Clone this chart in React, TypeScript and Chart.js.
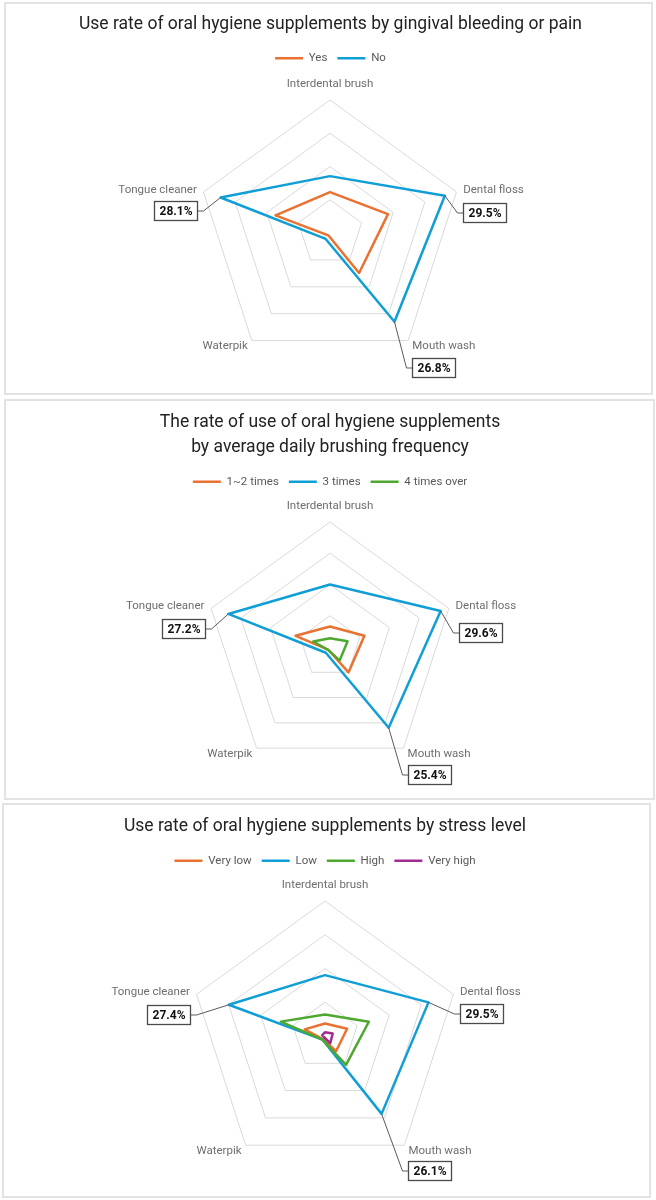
import React, { useEffect, useRef } from 'react';
import { Chart, registerables } from 'chart.js';

Chart.register(...registerables);
Chart.defaults.font.family = 'Roboto, "Noto Sans", sans-serif';

// ---------- data ----------
const CATEGORIES = ['Interdental brush', 'Dental floss', 'Mouth wash', 'Waterpik', 'Tongue cleaner'];

const ORANGE = '#E97132';
const BLUE = '#0F9ED5';
const GREEN = '#4EA72E';
const PURPLE = '#A02B93';

// Chart 1: gingival bleeding or pain
const TITLE_1 = 'Use rate of oral hygiene supplements by gingival bleeding or pain';
const SERIES_1 = ['Yes', 'No'];
const YES_1 = [10.0, 14.9, 12.1, 0.7, 14.0];
const NO_1 = [13.9, 29.5, 26.8, 1.8, 28.1];
const MAX_1 = 32.5;

// Chart 2: daily brushing frequency
const TITLE_2 = ['The rate of use of oral hygiene supplements', 'by average daily brushing frequency'];
const SERIES_2 = ['1~2 times', '3 times', '4 times over'];
const TIMES12_2 = [5.2, 9.2, 8.0, 0.8, 9.2];
const TIMES3_2 = [15.9, 29.6, 25.4, 1.8, 27.2];
const TIMES4_2 = [2.2, 4.7, 4.2, 0.9, 4.5];
const MAX_2 = 31.8;

// Chart 3: stress level
const TITLE_3 = 'Use rate of oral hygiene supplements by stress level';
const SERIES_3 = ['Very low', 'Low', 'High', 'Very high'];
const VERYLOW_3 = [3.4, 6.3, 5.1, 1.0, 5.8];
const LOW_3 = [16.5, 29.5, 26.1, 1.2, 27.4];
const HIGH_3 = [5.8, 12.5, 9.7, 1.2, 12.6];
const VERYHIGH_3 = [1.0, 2.2, 2.4, 0.4, 0.8];
const MAX_3 = 36.6;

// indices of labelled points (Dental floss, Mouth wash, Tongue cleaner)
const LABELLED = [1, 2, 4];

// ---------- plugins ----------
const axisLabelsPlugin = {
  id: 'axisLabels',
  afterDraw(chart: any) {
    const scale = chart.scales.r;
    const ctx = chart.ctx;
    ctx.save();
    ctx.font = '11.5px Roboto, "Noto Sans", sans-serif';
    ctx.fillStyle = '#6e6e6e';
    (chart.data.labels as string[]).forEach((label, i) => {
      const pos = scale.getPointPosition(i, scale.drawingArea + 7);
      let deg = (scale.getIndexAngle(i) * 180) / Math.PI;
      deg = ((deg % 360) + 360) % 360;
      let align: CanvasTextAlign = 'center';
      let y = pos.y;
      if (deg < 1 || deg > 359) {
        y = pos.y - 9;
      } else if (deg < 179) {
        align = 'left';
      } else if (deg > 181) {
        align = 'right';
      }
      ctx.textAlign = align;
      ctx.textBaseline = 'middle';
      ctx.fillText(label, pos.x, y);
    });
    ctx.restore();
  },
};

type Callout = { index: number; dx: number; dy: number };

function makeCalloutPlugin(datasetIndex: number, items: Callout[]) {
  return {
    id: 'callouts',
    afterDatasetsDraw(chart: any) {
      const meta = chart.getDatasetMeta(datasetIndex);
      const values = chart.data.datasets[datasetIndex].data as number[];
      const ctx = chart.ctx;
      ctx.save();
      ctx.font = 'bold 12px Roboto, "Noto Sans", sans-serif';
      items.forEach((it) => {
        const pt = meta.data[it.index];
        const text = values[it.index].toFixed(1) + '%';
        const tw = ctx.measureText(text).width;
        const bw = Math.round(tw + 10);
        const bh = 19;
        const cx = pt.x + it.dx;
        const cy = pt.y + it.dy;
        const left = Math.round(cx - bw / 2) + 0.5;
        const top = Math.round(cy - bh / 2) + 0.5;
        const midY = top + bh / 2;
        const edgeX = it.dx < 0 ? left + bw : left;
        const tail = it.dx < 0 ? 6 : -6;
        ctx.strokeStyle = '#595959';
        ctx.lineWidth = 1;
        ctx.beginPath();
        ctx.moveTo(pt.x, pt.y);
        ctx.lineTo(edgeX + tail, midY);
        ctx.lineTo(edgeX, midY);
        ctx.stroke();
        ctx.fillStyle = '#ffffff';
        ctx.fillRect(left, top, bw, bh);
        ctx.strokeStyle = '#4a4a4a';
        ctx.lineWidth = 1.3;
        ctx.strokeRect(left, top, bw, bh);
        ctx.fillStyle = '#111111';
        ctx.textAlign = 'center';
        ctx.textBaseline = 'middle';
        ctx.fillText(text, left + bw / 2, midY + 0.5);
      });
      ctx.restore();
    },
  };
}

// ---------- panel ----------
type Series = { label: string; data: number[]; color: string };

interface PanelProps {
  left: number;
  top: number;
  width: number;
  height: number;
  title: string | string[];
  titleLineHeight: number;
  titlePadTop: number;
  titlePadBottom: number;
  spacer: number;
  padding: { left: number; right: number; top: number; bottom: number };
  series: Series[];
  max: number;
  calloutSeries: number;
  callouts: Callout[];
}

function RadarPanel(p: PanelProps) {
  const ref = useRef<HTMLCanvasElement>(null);
  const innerW = p.width - 4;
  const innerH = p.height - 4;

  useEffect(() => {
    if (!ref.current) return;
    const n = p.series.length;
    const chart = new Chart(ref.current, {
      type: 'radar',
      data: {
        labels: CATEGORIES,
        datasets: p.series.map((s, i) => ({
          label: s.label,
          data: s.data,
          borderColor: s.color,
          backgroundColor: s.color,
          borderWidth: 2.5,
          borderJoinStyle: 'round',
          pointRadius: 0,
          pointHoverRadius: 0,
          pointHitRadius: 0,
          pointBorderWidth: 2.5,
          pointBorderColor: s.color,
          fill: false,
          order: n - i,
        })) as any,
      },
      options: {
        responsive: false,
        animation: false,
        events: [],
        layout: { padding: p.padding },
        scales: {
          r: {
            min: 0,
            max: p.max,
            ticks: { display: false, count: 5 },
            grid: { color: '#d9d9d9', lineWidth: 1 },
            angleLines: { display: false },
            pointLabels: { display: false },
          },
        },
        plugins: {
          title: {
            display: true,
            text: p.title,
            color: '#222222',
            font: { size: 17.5, weight: 'normal', lineHeight: p.titleLineHeight },
            padding: { top: p.titlePadTop, bottom: p.titlePadBottom },
          },
          subtitle: {
            display: true,
            text: '',
            weight: 500,
            font: { size: 1, lineHeight: 1 },
            padding: { top: p.spacer - 1, bottom: 0 },
          } as any,
          legend: {
            display: true,
            position: 'top',
            labels: {
              usePointStyle: true,
              pointStyle: 'line',
              pointStyleWidth: 28,
              padding: 10,
              color: '#595959',
              font: { size: 11.5 },
              sort: (a: any, b: any) => a.datasetIndex - b.datasetIndex,
            },
          },
          tooltip: { enabled: false },
        },
      } as any,
      plugins: [axisLabelsPlugin, makeCalloutPlugin(p.calloutSeries, p.callouts)],
    });
    return () => chart.destroy();
  }, []);

  return (
    <div
      style={{
        position: 'absolute',
        left: p.left,
        top: p.top,
        width: p.width,
        height: p.height,
        border: '2px solid #e3e3e3',
        boxSizing: 'border-box',
        background: '#ffffff',
      }}
    >
      <canvas ref={ref} width={innerW} height={innerH} style={{ display: 'block', width: innerW, height: innerH }} />
    </div>
  );
}

export default function App() {
  return (
    <div style={{ position: 'absolute', left: 0, top: 0, width: 656, height: 1200, background: '#ffffff' }}>
      <RadarPanel
        left={4}
        top={2}
        width={649}
        height={393}
        title={TITLE_1}
        titleLineHeight={1.2}
        titlePadTop={10}
        titlePadBottom={7.5}
        spacer={26}
        padding={{ left: 4, right: 0, top: 0, bottom: 27 }}
        series={[
          { label: SERIES_1[0], data: YES_1, color: ORANGE },
          { label: SERIES_1[1], data: NO_1, color: BLUE },
        ]}
        max={MAX_1}
        calloutSeries={1}
        callouts={[
          { index: LABELLED[0], dx: 40, dy: 17 },
          { index: LABELLED[1], dx: 39, dy: 46 },
          { index: LABELLED[2], dx: -45, dy: 13 },
        ]}
      />
      <RadarPanel
        left={4}
        top={399}
        width={651}
        height={401}
        title={TITLE_2}
        titleLineHeight={1.4}
        titlePadTop={9.5}
        titlePadBottom={6.5}
        spacer={24.5}
        padding={{ left: 1, right: 0, top: 0, bottom: 26 }}
        series={[
          { label: SERIES_2[0], data: TIMES12_2, color: ORANGE },
          { label: SERIES_2[1], data: TIMES3_2, color: BLUE },
          { label: SERIES_2[2], data: TIMES4_2, color: GREEN },
        ]}
        max={MAX_2}
        calloutSeries={1}
        callouts={[
          { index: LABELLED[0], dx: 40, dy: 21 },
          { index: LABELLED[1], dx: 41, dy: 47 },
          { index: LABELLED[2], dx: -45, dy: 15 },
        ]}
      />
      <RadarPanel
        left={2}
        top={803}
        width={649}
        height={395}
        title={TITLE_3}
        titleLineHeight={1.2}
        titlePadTop={11}
        titlePadBottom={8}
        spacer={24.5}
        padding={{ left: 0, right: 3, top: 0, bottom: 25 }}
        series={[
          { label: SERIES_3[0], data: VERYLOW_3, color: ORANGE },
          { label: SERIES_3[1], data: LOW_3, color: BLUE },
          { label: SERIES_3[2], data: HIGH_3, color: GREEN },
          { label: SERIES_3[3], data: VERYHIGH_3, color: PURPLE },
        ]}
        max={MAX_3}
        calloutSeries={1}
        callouts={[
          { index: LABELLED[0], dx: 53, dy: 11 },
          { index: LABELLED[1], dx: 48, dy: 57 },
          { index: LABELLED[2], dx: -60, dy: 10 },
        ]}
      />
    </div>
  );
}
